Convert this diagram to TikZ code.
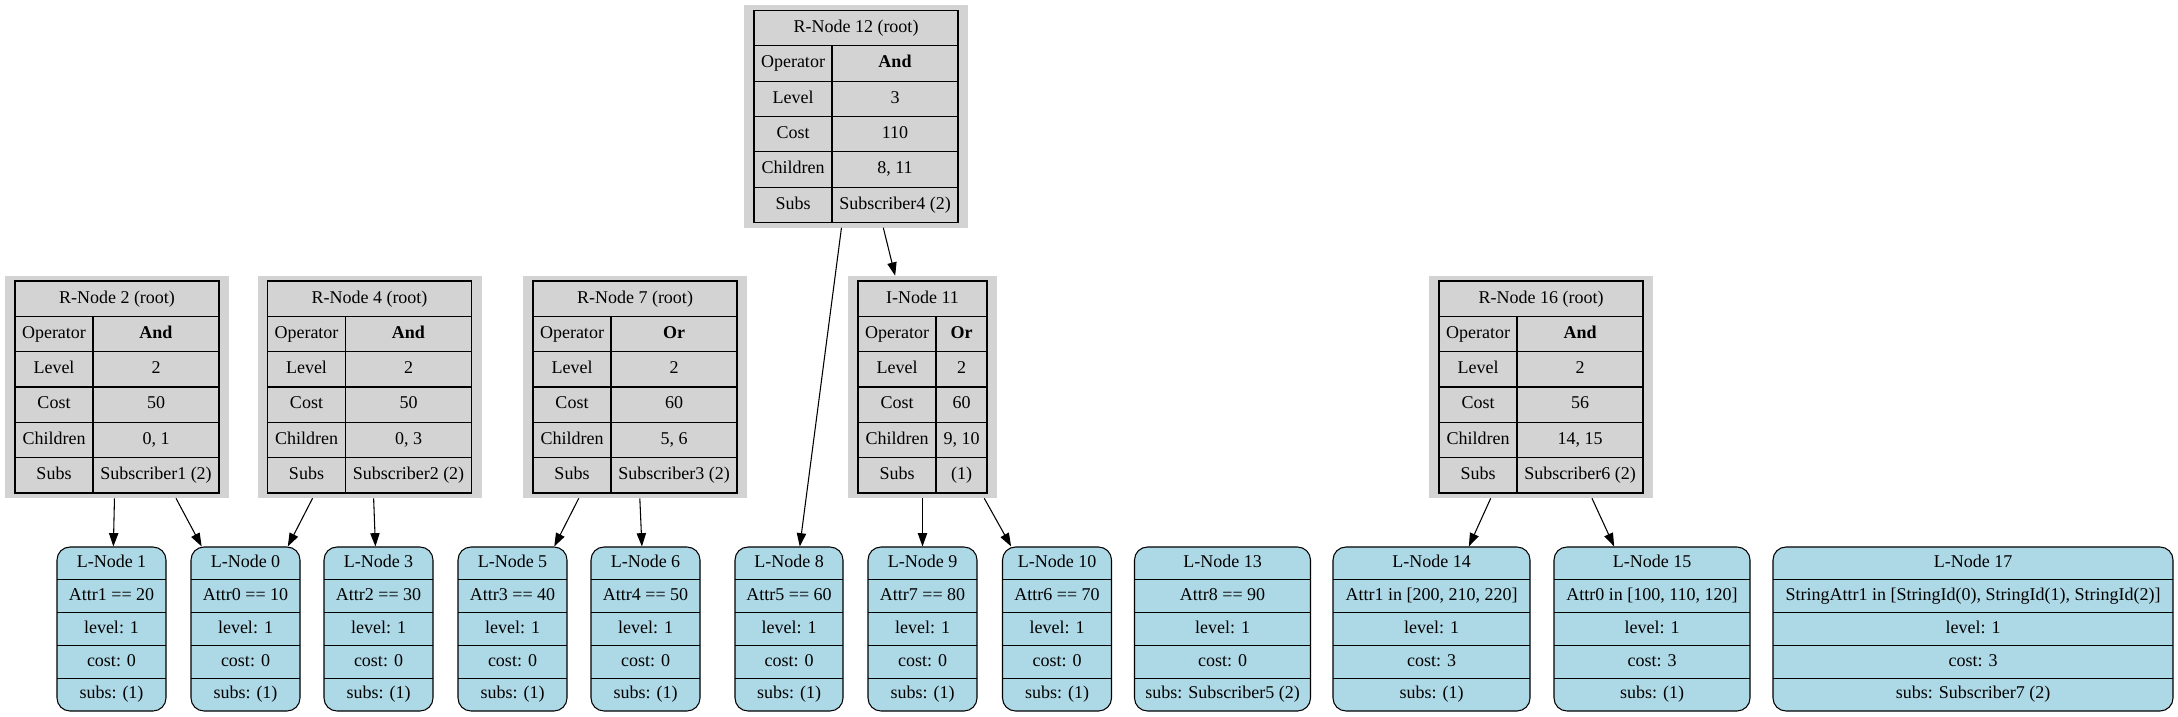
\documentclass[tikz,border=0pt]{standalone}
\usepackage{fontspec}
\setmainfont{Liberation Serif}
\usetikzlibrary{arrows.meta}

\definecolor{rgrey}{HTML}{D3D3D3}
\definecolor{lblue}{HTML}{ADD8E6}
\newcommand\pxu{0.75pt}

% R-node: grey box holding a two-column table
% [right column width] name, position, title, operator, level, cost, children, subs
\newcommand\rnode[9][126]{%
    \node[rbox, minimum width={(98+#1)*\pxu}] (#2) at (#3) {};
    \begin{scope}[shift={(#2.center)}]
        \node[cell, minimum width={(78+#1)*\pxu}] (#2-t) at (0,-88.33) {#4};
        \foreach \k/\v [count=\i] in {Operator/{\textbf{#5}}, Level/{#6}, Cost/{#7}, Children/{#8}, Subs/{#9}} {
            \node[cell, minimum width=78*\pxu] (#2-k\i) at ({-(78+#1)/2+39}, {-88.33+35.33*\i}) {\k};
            \node[cell, minimum width={#1*\pxu}] (#2-v\i) at ({(78+#1)/2-#1/2}, {-88.33+35.33*\i}) {\v};
        }
    \end{scope}
}

% L-node: rounded blue box with five rows
% [width] name, x, title, condition, level, cost, subs
\newcommand\lnode[8][109]{%
    \node[lbox, minimum width={#1*\pxu}] (#2) at (#3,629) {};
    \begin{scope}[shift={(#2.center)}]
        \foreach \txt [count=\i from 0] in {{#4}, {#5}, {level: #6}, {cost: #7}, {subs: #8}} {
            \node[ltext] (#2-r\i) at (0, {-82+32.8*(\i+0.5)}) {\txt};
        }
        \foreach \i in {1,...,4}
            \draw[lsep] ({-#1/2}, {-82+32.8*\i}) -- ({#1/2}, {-82+32.8*\i});
    \end{scope}
}

\begin{document}
\begin{tikzpicture}[
    x=0.75pt,
    y=-0.75pt,
    font=\fontsize{13.5}{16}\selectfont,
    rbox/.style={
        rectangle,
        fill=rgrey,
        minimum height=222*\pxu,
        inner sep=0pt,
    },
    cell/.style={
        rectangle,
        draw=black,
        line width=0.8pt,
        minimum height=35.33*\pxu,
        inner sep=0pt,
        text height=9.5pt,
        text depth=3pt,
    },
    lbox/.style={
        rectangle,
        draw=black,
        line width=0.8pt,
        fill=lblue,
        rounded corners=13*\pxu,
        minimum height=164*\pxu,
        inner sep=0pt,
    },
    ltext/.style={
        inner sep=0pt,
        text height=9.5pt,
        text depth=3pt,
    },
    lsep/.style={
        draw=black,
        line width=0.8pt,
    },
    link/.style={
        line width=0.8pt,
        -{Triangle[length=10pt, width=7pt]},
    }
]
    \useasboundingbox (0,0) rectangle (2178,717);

    % R-nodes
    \rnode{rn12}{856,116.5}{R-Node 12 (root)}{And}{3}{110}{8, 11}{Subscriber4 (2)}
    \rnode{rn2}{117,387}{R-Node 2 (root)}{And}{2}{50}{0, 1}{Subscriber1 (2)}
    \rnode{rn4}{369.5,387}{R-Node 4 (root)}{And}{2}{50}{0, 3}{Subscriber2 (2)}
    \rnode{rn7}{635,387}{R-Node 7 (root)}{Or}{2}{60}{5, 6}{Subscriber3 (2)}
    \rnode[51]{in11}{922.5,387}{I-Node 11}{Or}{2}{60}{9, 10}{(1)}
    \rnode{rn16}{1541,387}{R-Node 16 (root)}{And}{2}{56}{14, 15}{Subscriber6 (2)}

    % L-nodes
    \lnode{ln1}{111.5}{L-Node 1}{Attr1 == 20}{1}{0}{(1)}
    \lnode{ln0}{245.5}{L-Node 0}{Attr0 == 10}{1}{0}{(1)}
    \lnode{ln3}{378.5}{L-Node 3}{Attr2 == 30}{1}{0}{(1)}
    \lnode{ln5}{512.5}{L-Node 5}{Attr3 == 40}{1}{0}{(1)}
    \lnode{ln6}{645.5}{L-Node 6}{Attr4 == 50}{1}{0}{(1)}
    \lnode[108]{ln8}{789}{L-Node 8}{Attr5 == 60}{1}{0}{(1)}
    \lnode{ln9}{922.5}{L-Node 9}{Attr7 == 80}{1}{0}{(1)}
    \lnode{ln10}{1057}{L-Node 10}{Attr6 == 70}{1}{0}{(1)}
    \lnode[176]{ln13}{1222.5}{L-Node 13}{Attr8 == 90}{1}{0}{Subscriber5 (2)}
    \lnode[197]{ln14}{1431.5}{L-Node 14}{Attr1 in [200, 210, 220]}{1}{3}{(1)}
    \lnode[196]{ln15}{1652}{L-Node 15}{Attr0 in [100, 110, 120]}{1}{3}{(1)}
    \lnode[400]{ln17}{1973}{L-Node 17}{StringAttr1 in [StringId(0), StringId(1), StringId(2)]}{1}{3}{Subscriber7 (2)}

    % Edges
    \draw[link] (rn2) -- (ln1);
    \draw[link] (rn2) -- (ln0);
    \draw[link] (rn4) -- (ln0);
    \draw[link] (rn4) -- (ln3);
    \draw[link] (rn7) -- (ln5);
    \draw[link] (rn7) -- (ln6);
    \draw[link] (rn12) -- (ln8);
    \draw[link] (rn12) -- (in11);
    \draw[link] (in11) -- (ln9);
    \draw[link] (in11) -- (ln10);
    \draw[link] (rn16) -- (ln14);
    \draw[link] (rn16) -- (ln15);
\end{tikzpicture}
\end{document}
